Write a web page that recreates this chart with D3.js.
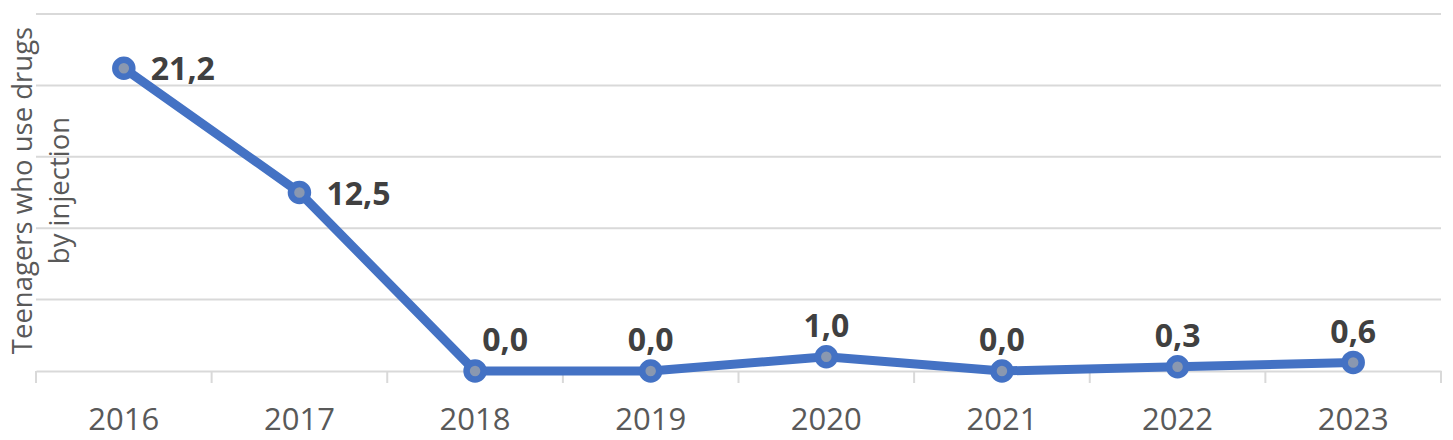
<!DOCTYPE html>
<html lang="en">
<head>
    <meta charset="UTF-8">
    <title>Teenagers who use drugs by injection</title>
    <style>
        body { margin: 0; background: #fff; }
        text { font-family: "Open Sans", sans-serif; }
    </style>
</head>
<body>
<script src="https://d3js.org/d3.v7.min.js"></script>
<script>
    var years = ['2016', '2017', '2018', '2019', '2020', '2021', '2022', '2023'];
    var values = [21.2, 12.5, 0.0, 0.0, 1.0, 0.0, 0.3, 0.6];
    var labelPlace = ['right', 'right', 'aboveRight', 'above', 'above', 'above', 'above', 'above'];
    var yTicks = [0, 5, 10, 15, 20, 25];
    var titleLines = ['Teenagers who use drugs', 'by injection'];

    var width = 1453,
        height = 440,
        plotLeft = 36, plotRight = 1441,
        plotTop = 14, plotBottom = 371;

    var svg = d3.select('body').append('svg')
                .attr('width', width)
                .attr('height', height);

    var x = d3.scaleBand().domain(years).range([plotLeft, plotRight]);
    var y = d3.scaleLinear().domain([0, 25]).range([plotBottom, plotTop]);

    // gridlines
    svg.append('g')
       .attr('class', 'grid')
       .selectAll('line')
       .data(yTicks.slice(1))
       .enter().append('line')
       .attr('x1', plotLeft)
       .attr('x2', plotRight)
       .attr('y1', function(d) { return y(d); })
       .attr('y2', function(d) { return y(d); })
       .attr('stroke', '#d9d9d9')
       .attr('stroke-width', 2);

    // x axis
    var xAxis = d3.axisBottom(x).tickSize(0).tickPadding(37);
    var gx = svg.append('g')
       .attr('class', 'x-axis')
       .attr('transform', 'translate(0,' + plotBottom + ')')
       .call(xAxis);
    gx.select('.domain').attr('stroke', '#d9d9d9').attr('stroke-width', 2);
    gx.selectAll('.tick text')
      .attr('font-size', 31)
      .attr('font-family', '"Open Sans", sans-serif')
      .attr('fill', '#595959');

    // tick marks between categories
    var bounds = years.map(function(d) { return x(d); }).concat([plotRight]);
    gx.selectAll('line.sep')
      .data(bounds)
      .enter().append('line')
      .attr('class', 'sep')
      .attr('x1', function(d) { return d; })
      .attr('x2', function(d) { return d; })
      .attr('y1', 0)
      .attr('y2', 12)
      .attr('stroke', '#d9d9d9')
      .attr('stroke-width', 2);

    // y title
    var title = svg.append('text')
       .attr('transform', 'translate(22,' + ((plotTop + plotBottom) / 2 - 2) + ') rotate(-90)')
       .attr('text-anchor', 'middle')
       .attr('font-size', 27.5)
       .attr('fill', '#595959');
    title.selectAll('tspan')
       .data(titleLines)
       .enter().append('tspan')
       .attr('x', 0)
       .attr('dy', function(d, i) { return i === 0 ? '0.35em' : 37; })
       .text(function(d) { return d; });

    var cx = function(d, i) { return x(years[i]) + x.bandwidth() / 2; };

    // line
    var line = d3.line()
       .x(function(d, i) { return cx(d, i); })
       .y(function(d) { return y(d); });

    svg.append('path')
       .datum(values)
       .attr('d', line)
       .attr('fill', 'none')
       .attr('stroke', '#4472c4')
       .attr('stroke-width', 9)
       .attr('stroke-linejoin', 'round');

    // markers
    svg.append('g')
       .selectAll('circle')
       .data(values)
       .enter().append('circle')
       .attr('cx', cx)
       .attr('cy', function(d) { return y(d); })
       .attr('r', 8.5)
       .attr('fill', '#8a98b0')
       .attr('stroke', '#4472c4')
       .attr('stroke-width', 6.5);

    // data labels
    svg.append('g')
       .selectAll('text')
       .data(values)
       .enter().append('text')
       .attr('x', function(d, i) {
           var p = labelPlace[i];
           return cx(d, i) + (p === 'right' ? 27 : p === 'aboveRight' ? 30 : 0);
       })
       .attr('y', function(d, i) {
           return y(d) + (labelPlace[i] === 'right' ? 1 : -31);
       })
       .attr('dy', '0.35em')
       .attr('text-anchor', function(d, i) { return labelPlace[i] === 'right' ? 'start' : 'middle'; })
       .attr('font-size', 32)
       .attr('font-weight', 'bold')
       .attr('fill', '#404040')
       .text(function(d) { return d3.format('.1f')(d).replace('.', ','); });
</script>
</body>
</html>
